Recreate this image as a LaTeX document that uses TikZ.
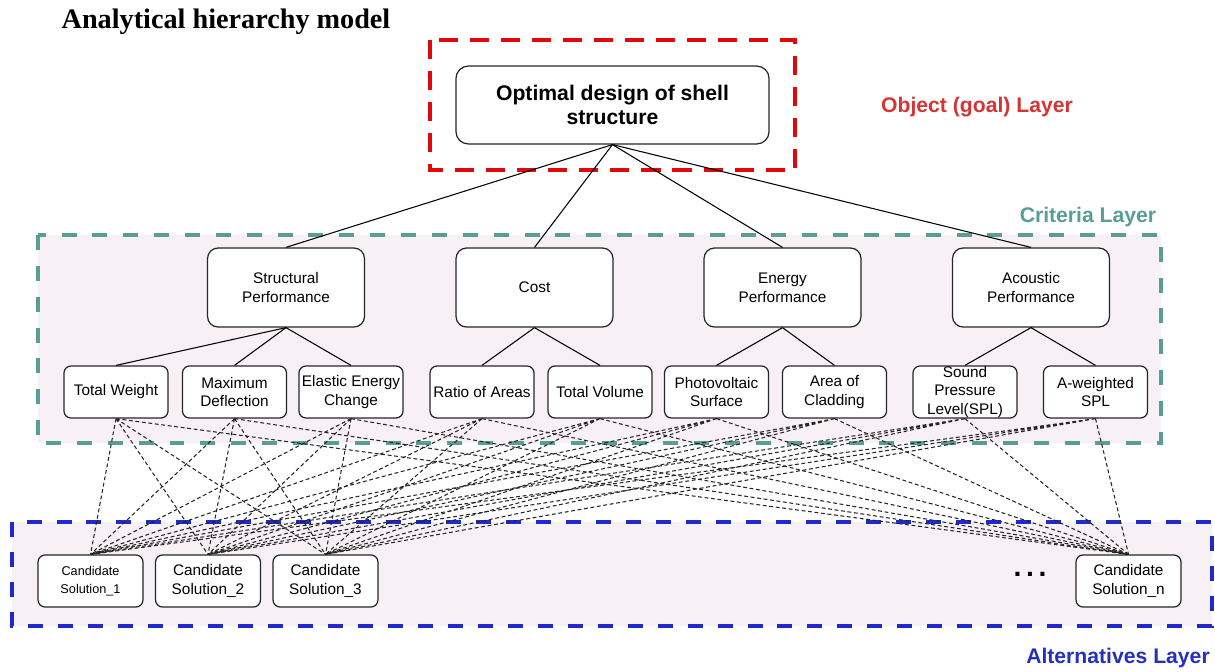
\documentclass[tikz,border=0pt]{standalone}
\usepackage{fontspec}
\setmainfont{Liberation Sans}
\newfontfamily\titlefont{Liberation Serif}
\usepackage{xcolor}
\usetikzlibrary{positioning}
\definecolor{goalred}{RGB}{224, 8, 8}
\definecolor{goaltext}{RGB}{214, 52, 52}
\definecolor{critteal}{RGB}{88, 158, 148}
\definecolor{altblue}{RGB}{32, 42, 204}
\definecolor{alttext}{RGB}{38, 48, 190}
\definecolor{layerfill}{RGB}{247, 241, 245}

\begin{document}
\begin{tikzpicture}[
  x=0.567pt, y=-0.567pt,
  goalbox/.style={rectangle, rounded corners=7pt, draw=black!85, fill=white,
              line width=0.7pt, font=\fontsize{12}{14}\selectfont\bfseries,
              align=center, minimum width=177.5pt, minimum height=44.2pt},
  critbox/.style={rectangle, rounded corners=6pt, draw=black!85, fill=white,
              line width=0.7pt, font=\fontsize{8.7}{10.6}\selectfont,
              align=center, minimum width=89pt, minimum height=44.8pt},
  subbox/.style={rectangle, rounded corners=4pt, draw=black!85, fill=white,
              line width=0.7pt, font=\fontsize{8.7}{10.6}\selectfont,
              align=center, minimum width=59pt, minimum height=29.5pt,
              inner xsep=1pt},
  candbox/.style={subbox, minimum width=59.5pt},
  layerbox/.style={draw=#1, line width=2.6pt},
  layerlabel/.style={font=\fontsize{12}{14}\selectfont\bfseries, text=#1},
  tie/.style={line width=0.6pt},
  dep/.style={line width=0.6pt, black!85, dash pattern=on 2.2pt off 1.5pt}
]
  \useasboundingbox (0,0) rectangle (1215,671);

  %% Layer frames
  \draw[layerbox=goalred, line width=2.8pt, dash pattern=on 10.8pt off 6.8pt]
    (430,40) rectangle (795,170);
  \draw[layerbox=critteal, fill=layerfill, line width=2.3pt,
        dash pattern=on 8.5pt off 9pt] (38,235) rectangle (1161,443);
  \draw[layerbox=altblue, fill=layerfill, line width=2.8pt,
        dash pattern=on 8.5pt off 8.5pt] (12,522) rectangle (1212,626);

  %% Title and layer names
  \node[font=\titlefont\fontsize{16}{19}\selectfont\bfseries] (title) at (226,22)
    {Analytical hierarchy model};
  \node[layerlabel=goaltext] (objlabel) at (977,107) {Object (goal) Layer};
  \node[layerlabel=critteal] (critlabel) at (1088,217) {Criteria Layer};
  \node[layerlabel=alttext] (altlabel) at (1118,658) {Alternatives Layer};

  %% Goal
  \node[goalbox] (goal) at (612.5,105) {Optimal design of shell\\ structure};

  %% Criteria
  \node[critbox] (strperf)  at (286,287.5)  {Structural\\ Performance};
  \node[critbox] (cost)     at (534.5,287.5) {Cost};
  \node[critbox] (energy)   at (782.5,287.5) {Energy\\ Performance};
  \node[critbox] (acoustic) at (1031,287.5) {Acoustic\\ Performance};

  %% Sub-criteria
  \node[subbox] (weight)  at (116,392)   {Total Weight};
  \node[subbox] (deflect) at (234.5,392) {Maximum\\ Deflection};
  \node[subbox] (elastic) at (351,392)   {Elastic Energy\\ Change};
  \node[subbox] (ratio)   at (482,392)   {Ratio of Areas};
  \node[subbox] (volume)  at (600,392)   {Total Volume};
  \node[subbox] (pv)      at (716.5,392) {Photovoltaic\\ Surface};
  \node[subbox] (clad)    at (834.5,392) {Area of\\ Cladding};
  \node[subbox, inner ysep=0pt] (spl) at (965,392)
    {Sound\\ Pressure\\ Level(SPL)};
  \node[subbox] (aspl)    at (1095.5,392) {A-weighted\\ SPL};

  %% Alternatives
  \node[candbox, font=\fontsize{7.2}{10.3}\selectfont] (cand1) at (90.5,581)
    {Candidate\\ Solution\_1};
  \node[candbox] (cand2) at (208,581)    {Candidate\\ Solution\_2};
  \node[candbox] (cand3) at (325.5,581)  {Candidate\\ Solution\_3};
  \node[candbox] (candn) at (1128.5,581) {Candidate\\ Solution\_n};
  \node[font=\fontsize{16}{16}\selectfont\bfseries] (dots) at (1030,574) {.\,.\,.};

  %% Goal to criteria
  \draw[tie] (goal.south) -- (strperf.north);
  \draw[tie] (goal.south) -- (cost.north);
  \draw[tie] (goal.south) -- (energy.north);
  \draw[tie] (goal.south) -- (acoustic.north);

  %% Criteria to sub-criteria
  \draw[tie] (strperf.south) -- (weight.north);
  \draw[tie] (strperf.south) -- (deflect.north);
  \draw[tie] (strperf.south) -- (elastic.north);
  \draw[tie] (cost.south) -- (ratio.north);
  \draw[tie] (cost.south) -- (volume.north);
  \draw[tie] (energy.south) -- (pv.north);
  \draw[tie] (energy.south) -- (clad.north);
  \draw[tie] (acoustic.south) -- (spl.north);
  \draw[tie] (acoustic.south) -- (aspl.north);

  %% Sub-criteria to every alternative
  \draw[dep] (weight.south) -- (cand1.north) (weight.south) -- (cand2.north)
             (weight.south) -- (cand3.north) (weight.south) -- (candn.north);
  \draw[dep] (deflect.south) -- (cand1.north) (deflect.south) -- (cand2.north)
             (deflect.south) -- (cand3.north) (deflect.south) -- (candn.north);
  \draw[dep] (elastic.south) -- (cand1.north) (elastic.south) -- (cand2.north)
             (elastic.south) -- (cand3.north) (elastic.south) -- (candn.north);
  \draw[dep] (ratio.south) -- (cand1.north) (ratio.south) -- (cand2.north)
             (ratio.south) -- (cand3.north) (ratio.south) -- (candn.north);
  \draw[dep] (volume.south) -- (cand1.north) (volume.south) -- (cand2.north)
             (volume.south) -- (cand3.north) (volume.south) -- (candn.north);
  \draw[dep] (pv.south) -- (cand1.north) (pv.south) -- (cand2.north)
             (pv.south) -- (cand3.north) (pv.south) -- (candn.north);
  \draw[dep] (clad.south) -- (cand1.north) (clad.south) -- (cand2.north)
             (clad.south) -- (cand3.north) (clad.south) -- (candn.north);
  \draw[dep] (spl.south) -- (cand1.north) (spl.south) -- (cand2.north)
             (spl.south) -- (cand3.north) (spl.south) -- (candn.north);
  \draw[dep] (aspl.south) -- (cand1.north) (aspl.south) -- (cand2.north)
             (aspl.south) -- (cand3.north) (aspl.south) -- (candn.north);
\end{tikzpicture}
\end{document}
